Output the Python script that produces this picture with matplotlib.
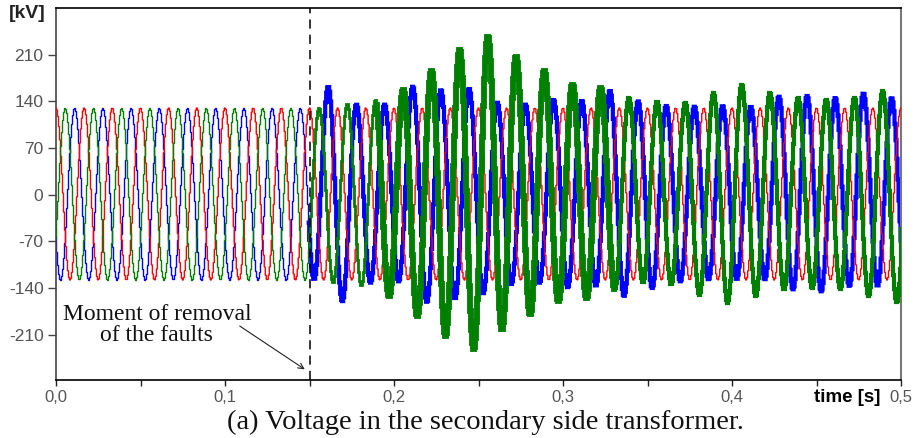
import numpy as np
import matplotlib
matplotlib.use("Agg")
import matplotlib.pyplot as plt

# ---------------- data ----------------
FREQ = 60.0          # Hz
T_REMOVAL = 0.15     # s, moment of removal of the faults

# red phase: maxima k=0..30, minima k=0..29
red_max = [130, 130, 130, 130, 130, 130, 130, 130, 130, 130, 130,
           130, 130, 130, 130, 130, 130, 130, 130, 130, 130,
           130, 130, 130, 130, 130, 130, 130, 130, 130, 130]
red_min = [-128, -128, -128, -128, -128, -128, -128, -128, -128, -128,
           -128, -128, -128, -128, -128, -128, -128, -128, -128, -128,
           -128, -128, -128, -128, -128, -128, -128, -128, -128, -128]

# green phase: maxima k=0..30, minima k=-1..29
green_max = [130, 130, 130, 130, 130, 130, 130, 130, 130,
             130, 137, 142, 157, 186, 217, 237, 207, 185, 165, 160,
             145, 140, 138, 152, 165, 153, 145, 142, 145, 155, 150]
green_min = [-128, -128, -128, -128, -128, -128, -128, -128, -128, -128,
             -132, -137, -152, -182, -212, -232, -203, -180, -160, -155,
             -142, -132, -135, -150, -162, -152, -142, -140, -142, -152, -162]

# blue phase: maxima k=-1..29, minima k=0..30
blue_max = [130, 130, 130, 130, 130, 130, 130, 130, 130, 130,
            162, 135, 135, 162, 157, 159, 138, 135, 142, 141,
            156, 140, 133, 132, 133, 132, 147, 148, 145, 152, 145]
blue_min = [-128, -128, -128, -128, -128, -128, -128, -128, -128,
            -127, -160, -132, -130, -161, -156, -148, -134, -132, -139, -137,
            -152, -140, -130, -127, -127, -127, -142, -145, -137, -137, -140]

x_ticks = [0.0, 0.05, 0.1, 0.15, 0.2, 0.25, 0.3, 0.35, 0.4, 0.45, 0.5]
x_labels = ["0,0", "", "0,1", "", "0,2", "", "0,3", "", "0,4", "", "0,5"]
y_ticks = [-210, -140, -70, 0, 70, 140, 210]
y_labels = ["-210", "-140", "-70", "0", "70", "140", "210"]


def extremes(t_first_max, maxima, t_first_min, minima):
    tmax = t_first_max + np.arange(len(maxima)) / FREQ
    tmin = t_first_min + np.arange(len(minima)) / FREQ
    t = np.concatenate([tmax, tmin])
    v = np.concatenate([np.asarray(maxima, float), np.asarray(minima, float)])
    o = np.argsort(t)
    return t[o], v[o]


def waveform(te, ve, t):
    i = np.clip(np.searchsorted(te, t, side="right") - 1, 0, len(te) - 2)
    frac = (t - te[i]) / (te[i + 1] - te[i])
    return 0.5 * (ve[i] + ve[i + 1]) + 0.5 * (ve[i] - ve[i + 1]) * np.cos(np.pi * frac)


half = 1.0 / (2 * FREQ)
red_te, red_ve = extremes(0.0, red_max, half, red_min)
green_te, green_ve = extremes(1 / (3 * FREQ), green_max, 1 / (3 * FREQ) - half, green_min)
blue_te, blue_ve = extremes(2 / (3 * FREQ) - 1 / FREQ, blue_max, 1 / (6 * FREQ), blue_min)

dt = 0.5 / 846.0
t = np.arange(0.0, 0.5 + dt, dt)
v_red = waveform(red_te, red_ve, t)
v_green = waveform(green_te, green_ve, t)
v_blue = waveform(blue_te, blue_ve, t)

# ---------------- figure ----------------
W, H = 918, 438
fig = plt.figure(figsize=(W / 100, H / 100), dpi=100)
ax = fig.add_axes([56 / W, 1 - 380 / H, (901 - 56) / W, (380 - 8) / H])

RED = "#ff0000"
BLUE = "#0000ff"
GREEN = "#008000"


def draw(v, color, pieces, z):
    for (a, b, lw) in pieces:
        m = (t >= a - dt) & (t <= b + dt)
        ax.plot(t[m], v[m], color=color, lw=lw, drawstyle="steps-mid",
                zorder=z, solid_joinstyle="miter")


draw(v_blue, BLUE, [(0.0, T_REMOVAL, 1.0), (T_REMOVAL, 0.5, 3.0)], 2)
draw(v_red, RED, [(0.0, 0.5, 1.0)], 3)
draw(v_green, GREEN, [(0.0, T_REMOVAL, 1.0), (T_REMOVAL, 0.19, 2.0),
                      (0.19, 0.33, 4.2), (0.33, 0.5, 3.0)], 4)

ax.axvline(T_REMOVAL, color="black", lw=1.1, ls=(0, (6, 4)), zorder=5)

ax.set_xlim(0.0, 0.5)
ax.set_ylim(-278, 280)
ax.set_xticks(x_ticks)
ax.set_xticklabels(x_labels)
ax.set_yticks(y_ticks)
ax.set_yticklabels(y_labels)
ax.tick_params(axis="x", direction="out", length=4, width=1, pad=3,
               labelsize=12, labelcolor="#555555", color="#222222")
ax.tick_params(axis="y", direction="out", length=6, width=1, pad=3,
               labelsize=12.5, labelcolor="#555555", color="#444444")
for lab in ax.get_xticklabels() + ax.get_yticklabels():
    lab.set_family("Liberation Sans")

ax.spines["top"].set_color("black")
ax.spines["top"].set_linewidth(1.2)
ax.spines["bottom"].set_color("black")
ax.spines["bottom"].set_linewidth(1.2)
ax.spines["left"].set_color("#444444")
ax.spines["left"].set_linewidth(1.2)
ax.spines["right"].set_color("#777777")
ax.spines["right"].set_linewidth(1.5)

# annotation
ax.text(0.0597, -196, "Moment of removal\nof the faults", ha="center", va="center",
        family="Liberation Serif", fontsize=17, color="#111111", linespacing=1.0,
        multialignment="center")
ax.annotate("", xy=(0.1472, -262), xytext=(0.1087, -197),
            arrowprops=dict(arrowstyle="->", lw=0.8, color="#222222",
                            shrinkA=0, shrinkB=0))

fig.text(27 / W, 1 - 13 / H, "[kV]", ha="center", va="center",
         family="Liberation Sans", fontsize=14, fontweight="bold", color="#222222")
fig.text(847 / W, 1 - 398 / H, "time [s]", ha="center", va="center",
         family="Liberation Sans", fontsize=13.5, fontweight="bold", color="black")
fig.text(485 / W, 1 - 422 / H, "(a) Voltage in the secondary side transformer.",
         ha="center", va="center", family="Liberation Serif", fontsize=20.5, color="#111111")

fig.savefig("out.png", dpi=100)
